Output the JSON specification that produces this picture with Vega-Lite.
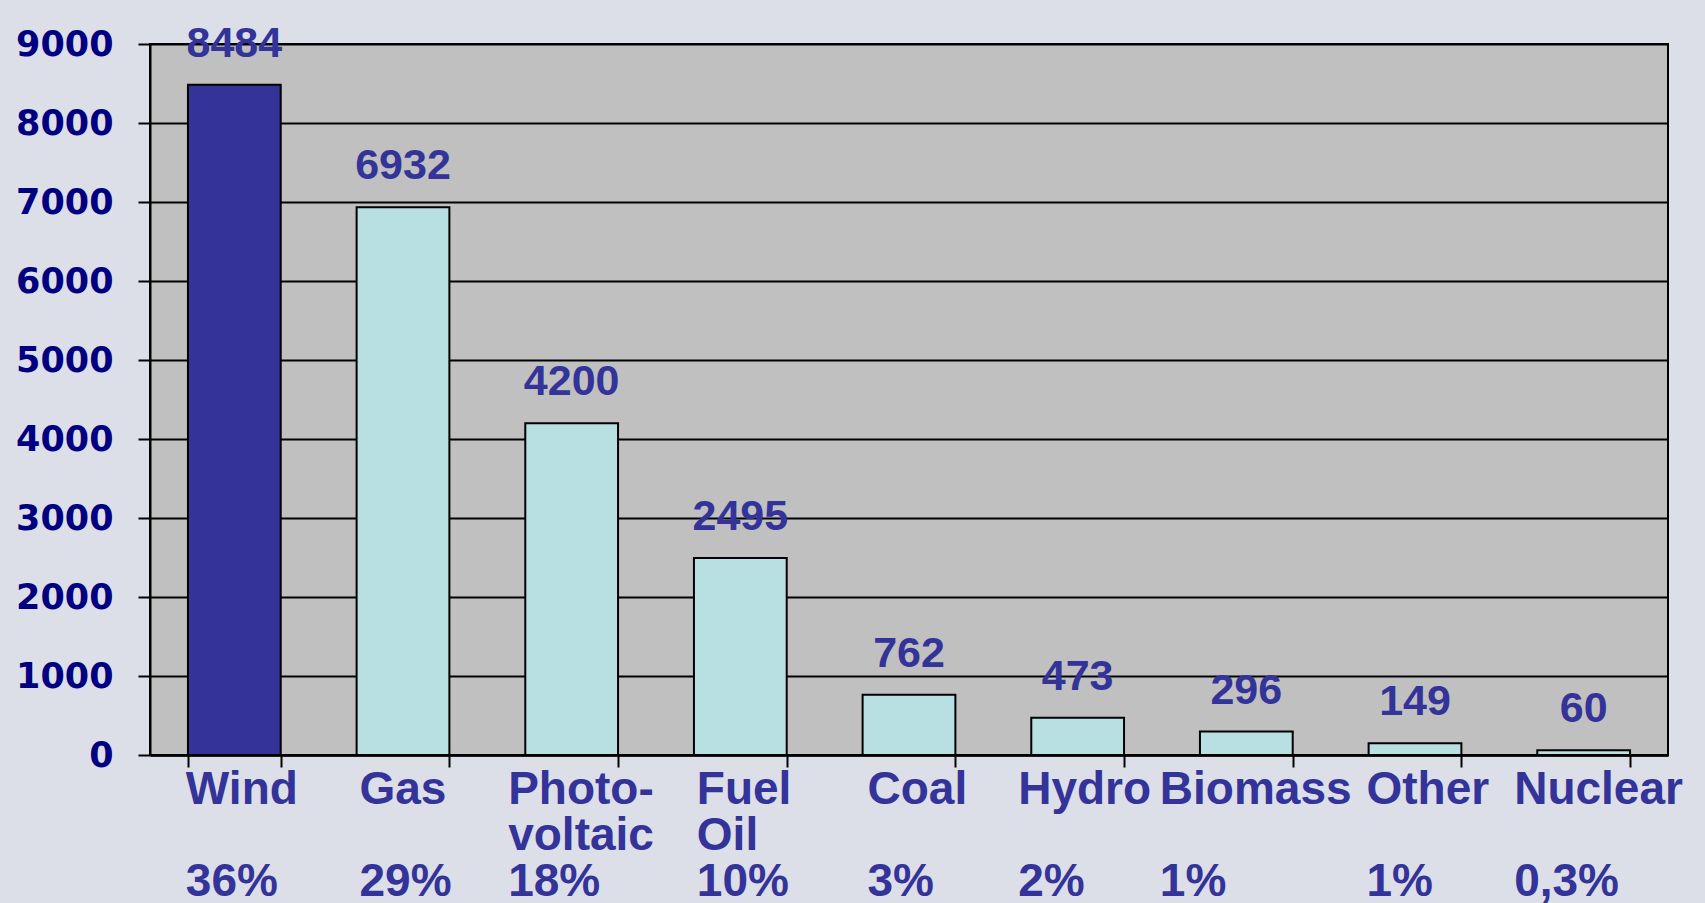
{
  "$schema": "https://vega.github.io/schema/vega-lite/v6.json",
  "autosize": "none",
  "width": 1518,
  "height": 711,
  "padding": {"left": 150, "top": 44, "right": 37, "bottom": 148},
  "background": "#dcdfe8",
  "config": {
    "view": {"fill": "#c0c0c0", "stroke": "#000000", "strokeWidth": 2}
  },
  "data": {
    "values": [
      {"source": "Wind", "label": "Wind|\u200b|36%", "capacity": 8484},
      {"source": "Gas", "label": "Gas|\u200b|29%", "capacity": 6932},
      {"source": "Photovoltaic", "label": "Photo-|voltaic|18%", "capacity": 4200},
      {"source": "Fuel Oil", "label": "Fuel|Oil|10%", "capacity": 2495},
      {"source": "Coal", "label": "Coal|\u200b|3%", "capacity": 762},
      {"source": "Hydro", "label": "Hydro|\u200b|2%", "capacity": 473},
      {"source": "Biomass", "label": "Biomass|\u200b|1%", "capacity": 296},
      {"source": "Other", "label": "Other|\u200b|1%", "capacity": 149},
      {"source": "Nuclear", "label": "Nuclear|\u200b|0,3%", "capacity": 60}
    ]
  },
  "encoding": {
    "x": {
      "field": "label",
      "type": "nominal",
      "sort": null,
      "scale": {"paddingInner": 0.45, "paddingOuter": 0.225},
      "axis": {
        "title": null,
        "labelExpr": "isValid(datum.value) ? split(datum.value, '|') : ''",
        "tickBand": "extent",
        "labelAlign": "left",
        "labelBaseline": "top",
        "labelFont": "Liberation Sans",
        "labelFontWeight": "bold",
        "labelFontSize": 46,
        "labelLineHeight": 46,
        "labelColor": "#333399",
        "labelPadding": 0,
        "labelOverlap": false,
        "labelBound": false,
        "labelFlush": false,
        "labelLimit": 0,
        "labelAngle": 0,
        "labelOffset": {
          "condition": [
            {"test": "indexof(datum.value + '', 'Wind') == 0", "value": -49},
            {"test": "indexof(datum.value + '', 'Gas') == 0", "value": -44},
            {"test": "indexof(datum.value + '', 'Photo') == 0", "value": -64},
            {"test": "indexof(datum.value + '', 'Fuel') == 0", "value": -44},
            {"test": "indexof(datum.value + '', 'Coal') == 0", "value": -42},
            {"test": "indexof(datum.value + '', 'Hydro') == 0", "value": -60},
            {"test": "indexof(datum.value + '', 'Biomass') == 0", "value": -87},
            {"test": "indexof(datum.value + '', 'Other') == 0", "value": -49}
          ],
          "value": -70
        },
        "ticks": true,
        "tickSize": 12,
        "tickColor": "#000000",
        "tickWidth": 2,
        "domainColor": "#000000",
        "domainWidth": 2.5,
        "grid": false
      }
    }
  },
  "layer": [
    {
      "mark": {"type": "bar", "stroke": "#000000", "strokeWidth": 2},
      "encoding": {
        "y": {
          "field": "capacity",
          "type": "quantitative",
          "scale": {"domain": [0, 9000], "nice": false},
          "axis": {
            "title": null,
            "values": [0, 1000, 2000, 3000, 4000, 5000, 6000, 7000, 8000, 9000],
            "format": "d",
            "labelFont": "DejaVu Sans",
            "labelFontWeight": "bold",
            "labelFontSize": 35,
            "labelColor": "#000080",
            "labelPadding": 25,
            "tickSize": 12,
            "tickColor": "#000000",
            "tickWidth": 2,
            "domainColor": "#000000",
            "domainWidth": 2,
            "grid": true,
            "gridColor": "#000000",
            "gridWidth": 1.8,
            "gridOpacity": 1
          }
        },
        "color": {
          "condition": {"test": "datum.source == 'Wind'", "value": "#333399"},
          "value": "#b8dfe1"
        }
      }
    },
    {
      "mark": {
        "type": "text",
        "font": "Liberation Sans",
        "fontWeight": "bold",
        "fontSize": 43,
        "color": "#333399",
        "baseline": "alphabetic",
        "align": "center",
        "dy": -28
      },
      "encoding": {
        "y": {"field": "capacity", "type": "quantitative"},
        "text": {"field": "capacity", "type": "quantitative", "format": "d"}
      }
    }
  ]
}
